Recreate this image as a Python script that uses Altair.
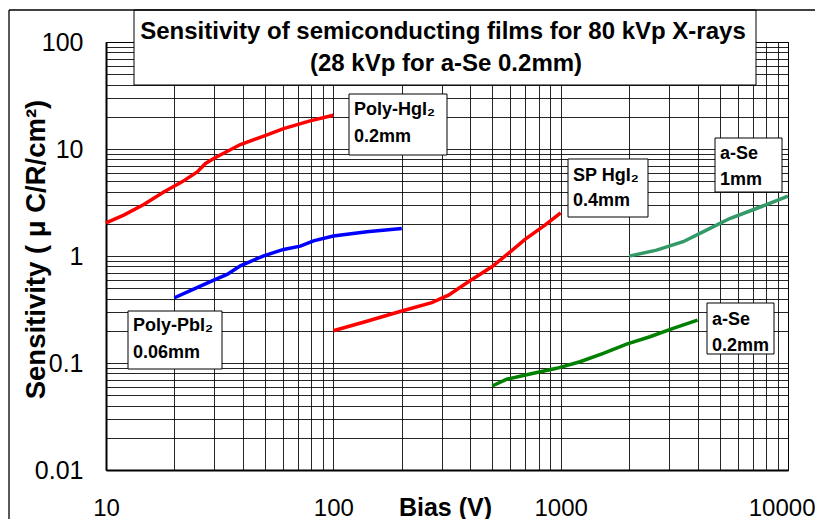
import altair as alt
import pandas as pd

# ---------------- data ----------------
series_names = ["Poly-HgI2 0.2mm", "Poly-PbI2 0.06mm", "SP HgI2 0.4mm", "a-Se 1mm", "a-Se 0.2mm"]
series_colors = ["#ff0000", "#0000ff", "#ff0000", "#339966", "#008000"]

poly_hgi2_x = [10, 11.97, 14.66, 17.95, 21.6, 25.2, 27.4, 30.3, 39.0, 49.4, 60.4, 79.0, 100]
poly_hgi2_y = [2.04, 2.41, 3.03, 3.97, 4.93, 6.11, 7.32, 8.32, 11.0, 13.2, 15.5, 18.3, 20.7]

poly_pbi2_x = [20, 24.3, 29.8, 34.1, 39.0, 49.4, 60.4, 71.6, 81.8, 100, 140.5, 200]
poly_pbi2_y = [0.407, 0.491, 0.596, 0.673, 0.81, 1.004, 1.152, 1.237, 1.387, 1.535, 1.683, 1.81]

sp_hgi2_x = [100, 138, 200, 271, 321, 393, 498, 589, 697, 853, 1000]
sp_hgi2_y = [0.2, 0.243, 0.306, 0.366, 0.431, 0.574, 0.793, 1.057, 1.43, 1.94, 2.53]

ase_1mm_x = [2000, 2641, 3457, 4380, 5540, 7260, 10000]
ase_1mm_y = [0.998, 1.135, 1.36, 1.745, 2.24, 2.78, 3.63]

ase_02mm_x = [500, 579, 733, 960, 1216, 1540, 1950, 2470, 3124, 4000]
ase_02mm_y = [0.061, 0.0705, 0.0789, 0.0892, 0.1028, 0.123, 0.150, 0.176, 0.211, 0.252]

x_major = [10, 100, 1000, 10000]
y_major = [0.01, 0.1, 1, 10, 100]

title_lines = ["Sensitivity of semiconducting films for 80 kVp X-rays", "(28 kVp for a-Se 0.2mm)"]
label_lines = [
    ["Poly-HgI₂", "0.2mm"],
    ["SP HgI₂", "0.4mm"],
    ["a-Se", "1mm"],
    ["a-Se", "0.2mm"],
    ["Poly-PbI₂", "0.06mm"],
]

# ---------------- tables built from the arrays ----------------
rows = []
for name, xs, ys in zip(series_names,
                        [poly_hgi2_x, poly_pbi2_x, sp_hgi2_x, ase_1mm_x, ase_02mm_x],
                        [poly_hgi2_y, poly_pbi2_y, sp_hgi2_y, ase_1mm_y, ase_02mm_y]):
    for i, (xv, yv) in enumerate(zip(xs, ys)):
        rows.append({"series": name, "bias": xv, "sens": yv, "idx": i})
df = pd.DataFrame(rows)

x_ticks = [round(m * 10 ** e, 6) for e in range(1, 4) for m in range(1, 10)] + [10000]
y_ticks = [round(m * 10 ** e, 6) for e in range(-2, 2) for m in range(1, 10)] + [100]

# ---------------- layout (page pixels -> plot pixels) ----------------
PAD_L, PAD_T, PAD_R, PAD_B = 98, 34, 27, 49
W, H = 682, 428
OX, OY = 8 + PAD_L, 8 + PAD_T

def px(v):
    return v - OX

def py(v):
    return v - OY

FONT = "Liberation Sans"

# boxes: title + annotation boxes (page coords)
box_page = [(134, 10, 756, 85), (349, 94, 447, 155), (568, 159, 648, 217),
            (715, 138, 782, 192), (707, 303, 774, 354), (128, 311, 222, 369)]
boxes = pd.DataFrame([{"x1": px(a), "y1": py(b), "x2": px(c), "y2": py(d)} for a, b, c, d in box_page])

label_anchor = [(354, 110, 137), (573, 176, 201), (720, 154, 180), (712, 320, 346), (133, 326, 353)]
trows = []
for (lx, l1, l2), lines in zip(label_anchor, label_lines):
    trows.append({"tx": px(lx), "ty": py(l1), "t": lines[0]})
    trows.append({"tx": px(lx), "ty": py(l2), "t": lines[1]})
texts = pd.DataFrame(trows)

titles = pd.DataFrame([{"tx": px(443), "ty": py(32), "t": title_lines[0]},
                       {"tx": px(446), "ty": py(64), "t": title_lines[1]}])

frame = pd.DataFrame([{"x1": px(9), "x2": px(9), "y1": py(10), "y2": py(530)},
                      {"x1": px(9), "x2": px(830), "y1": py(10), "y2": py(10)}])

x_axis = alt.Axis(
    values=x_ticks, grid=True, gridColor="#000000", gridWidth=1, gridOpacity=0.85,
    ticks=False, domainColor="#000000", domainWidth=2,
    labelExpr="indexof([10,100,1000,10000], datum.value) >= 0 ? datum.value + '' : ''",
    labelFont=FONT, labelFontSize=24, labelColor="#000000", labelPadding=26,
    labelFlush=False, labelOverlap=False,
    labelAlign={"condition": {"test": "datum.value >= 10000", "value": "right"}, "value": "center"},
    labelOffset={"condition": {"test": "datum.value >= 10000", "value": 27}, "value": 0},
    title="Bias (V)", titleFont=FONT, titleFontSize=25, titleFontWeight="bold", titleColor="#000000",
    titleX=339, titleY=37, titleAlign="center", titleBaseline="middle",
)
y_axis = alt.Axis(
    values=y_ticks, grid=True, gridColor="#000000", gridWidth=1, gridOpacity=0.85,
    ticks=False, domainColor="#000000", domainWidth=2,
    labelExpr="indexof([0.01,0.1,1,10,100], datum.value) >= 0 ? datum.value + '' : ''",
    labelFont=FONT, labelFontSize=25, labelColor="#000000", labelPadding=23,
    labelOverlap=False, labelFlush=False,
    title="Sensitivity ( μ C/R/cm²)", titleFont=FONT, titleFontSize=27.5, titleFontWeight="bold",
    titleColor="#000000", titleAngle=270, titleX=-70, titleY=207, titleAlign="center",
    titleBaseline="middle",
)

lines_layer = alt.Chart(df).mark_line(strokeWidth=3.5).encode(
    x=alt.X("bias:Q", scale=alt.Scale(type="log", domain=[10, 10000], nice=False), axis=x_axis),
    y=alt.Y("sens:Q", scale=alt.Scale(type="log", domain=[0.01, 100], nice=False), axis=y_axis),
    color=alt.Color("series:N", scale=alt.Scale(domain=series_names, range=series_colors), legend=None),
    order=alt.Order("idx:Q"),
)

box_layer = alt.Chart(boxes).mark_rect(fill="white", stroke="#000000", strokeWidth=1).encode(
    x=alt.X("x1:Q", scale=None, axis=None), x2="x2:Q",
    y=alt.Y("y1:Q", scale=None, axis=None), y2="y2:Q",
)

label_layer = alt.Chart(texts).mark_text(
    align="left", baseline="middle", font=FONT, fontSize=18, fontWeight="bold", color="#000000"
).encode(x=alt.X("tx:Q", scale=None, axis=None), y=alt.Y("ty:Q", scale=None, axis=None), text="t:N")

title_layer = alt.Chart(titles).mark_text(
    align="center", baseline="middle", font=FONT, fontSize=24, fontWeight="bold", color="#000000"
).encode(x=alt.X("tx:Q", scale=None, axis=None), y=alt.Y("ty:Q", scale=None, axis=None), text="t:N")

frame_layer = alt.Chart(frame).mark_rule(color="#000000", strokeWidth=1.3).encode(
    x=alt.X("x1:Q", scale=None, axis=None), x2="x2:Q",
    y=alt.Y("y1:Q", scale=None, axis=None), y2="y2:Q",
)

chart = alt.layer(lines_layer, box_layer, label_layer, title_layer, frame_layer).properties(
    width=W, height=H,
    autosize=alt.AutoSizeParams(type="none"),
    padding={"left": PAD_L, "top": PAD_T, "right": PAD_R, "bottom": PAD_B},
    background="white",
).configure_view(stroke="#000000", strokeWidth=1)

chart.save("out.html", embed_options={"renderer": "svg", "actions": False})
